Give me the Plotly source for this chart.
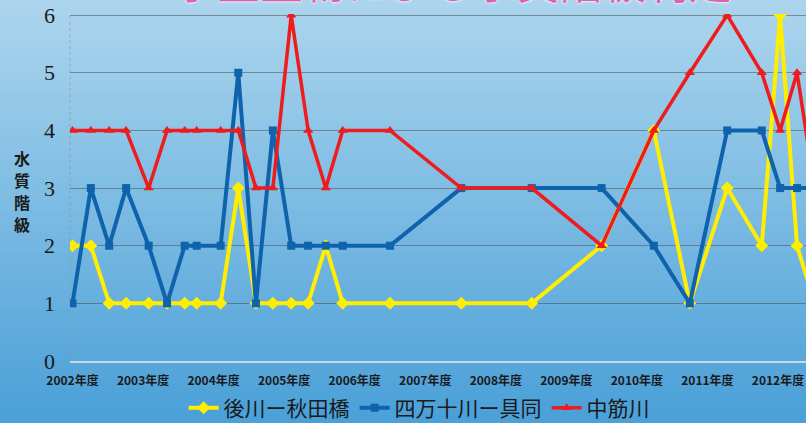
import plotly.graph_objects as go

# ---- data ----
sample_x = [2002.0, 2002.26, 2002.52, 2002.76, 2003.08, 2003.34, 2003.59, 2003.76,
            2004.10, 2004.35, 2004.60, 2004.84, 2005.10, 2005.34, 2005.59, 2005.83,
            2006.50, 2007.51, 2008.51, 2009.50, 2010.24, 2010.75, 2011.28, 2011.77,
            2012.03, 2012.27, 2012.52]
ushirogawa = [2, 2, 1, 1, 1, 1, 1, 1, 1, 3, 1, 1, 1, 1, 2, 1, 1, 1, 1, 2, 4, 1, 3, 2, 6, 2, 1]
shimanto   = [1, 3, 2, 3, 2, 1, 2, 2, 2, 5, 1, 4, 2, 2, 2, 2, 2, 3, 3, 3, 2, 1, 4, 4, 3, 3, 3]
nakasuji   = [4, 4, 4, 4, 3, 4, 4, 4, 4, 4, 3, 3, 6, 4, 3, 4, 4, 3, 3, 2, 4, 5, 6, 5, 4, 5, 3]
series_names = ["後川ー秋田橋", "四万十川ー具同", "中筋川"]
year_ticks = list(range(2002, 2013))
year_labels = [f"{y}年度" for y in year_ticks]
y_ticks = [0, 1, 2, 3, 4, 5, 6]
title_text = "水生生物による水質階級判定"
y_title = "水質階級"

W, H = 806, 423
L, R, T, B = 70, 0, 14, 62
plot_w = W - L - R
plot_h = H - T - B

fig = go.Figure()

styles = [
    dict(color="#ffee00", symbol="diamond", size=10, width=4),
    dict(color="#0f63ad", symbol="square", size=8, width=4),
    dict(color="#ee1c1c", symbol="triangle-up", size=9, width=3.5),
]
for name, vals, st in zip(series_names, [ushirogawa, shimanto, nakasuji], styles):
    fig.add_trace(go.Scatter(
        x=sample_x, y=vals, name=name, mode="lines+markers",
        line=dict(color=st["color"], width=st["width"]),
        marker=dict(color=st["color"], symbol=st["symbol"], size=st["size"]),
        cliponaxis=True,
    ))

# background gradient (styling)
shapes = []
n = 60
top_c = (172, 213, 237)
bot_c = (74, 160, 216)
y_top = 1 + T / plot_h
y_bot = -B / plot_h
for i in range(n):
    f = i / (n - 1)
    c = tuple(int(round(top_c[k] + (bot_c[k] - top_c[k]) * f)) for k in range(3))
    y0 = y_top - (y_top - y_bot) * i / n
    y1 = y_top - (y_top - y_bot) * (i + 1) / n
    shapes.append(dict(type="rect", xref="paper", yref="paper",
                       x0=-L / plot_w - 0.01, x1=1.01, y0=y1 - 0.002, y1=y0 + 0.002,
                       fillcolor="rgb(%d,%d,%d)" % c, line=dict(width=0), layer="below"))
shapes.append(dict(type="line", xref="paper", yref="paper", x0=0, x1=0, y0=0, y1=1,
                   line=dict(color="rgba(150,150,150,0.7)", width=1, dash="dot"), layer="below"))

px0 = 72.5
ppy = 70.55
x_lo = 2002 + (L - px0) / ppy
x_hi = 2002 + (W - R - px0) / ppy

annotations = []
for i, ch in enumerate(y_title):
    py = 158 + i * 22
    annotations.append(dict(text=ch, xref="paper", yref="paper",
                            x=(22 - L) / plot_w, y=(H - B - py) / plot_h,
                            xanchor="center", yanchor="middle", showarrow=False,
                            borderpad=0,
                            font=dict(family="Noto Sans CJK JP", size=16, color="#1a1a1a",
                                      weight="bold")))
annotations.append(dict(text=title_text, xref="paper", yref="paper",
                        x=(453 - L) / plot_w, y=(H - B - 13) / plot_h,
                        xanchor="center", yanchor="bottom", showarrow=False,
                        font=dict(family="Noto Sans CJK JP", size=43, color="#e060b0",
                                  shadow="0px 0px 3px white, 0px 0px 2px white")))

fig.update_layout(
    width=W, height=H,
    margin=dict(l=L, r=R, t=T, b=B, pad=0),
    paper_bgcolor="rgb(120,188,228)",
    plot_bgcolor="rgba(0,0,0,0)",
    shapes=shapes,
    showlegend=True,
    legend=dict(orientation="h", xref="container", yref="container",
                x=0.52, xanchor="center", y=0.035, yanchor="middle",
                font=dict(family="Noto Sans CJK JP", size=21, color="#1a1a1a"),
                bgcolor="rgba(0,0,0,0)", itemwidth=30, tracegroupgap=0),
    xaxis=dict(range=[x_lo, x_hi], tickmode="array", tickvals=year_ticks, ticktext=year_labels,
               showgrid=False, zeroline=False, showline=True, automargin=False,
               linecolor="rgba(215,225,232,0.9)", linewidth=1.5,
               ticks="", ticklabelstandoff=8,
               tickfont=dict(family="Liberation Sans Narrow, Noto Sans CJK JP", size=12,
                             color="#1a1a1a", weight="bold")),
    yaxis=dict(range=[0, 6.02], tickmode="array", tickvals=y_ticks, automargin=False,
               showgrid=True, gridcolor="rgba(70,70,70,0.5)", gridwidth=1,
               zeroline=False, showline=False, ticks="", ticklabelstandoff=14,
               tickfont=dict(family="Liberation Sans Narrow", size=22, color="#1a1a1a")),
    annotations=annotations,
)

fig.write_html("out.html", config={"displayModeBar": False},
               post_script="document.body.style.margin='0';document.body.style.overflow='hidden';")
